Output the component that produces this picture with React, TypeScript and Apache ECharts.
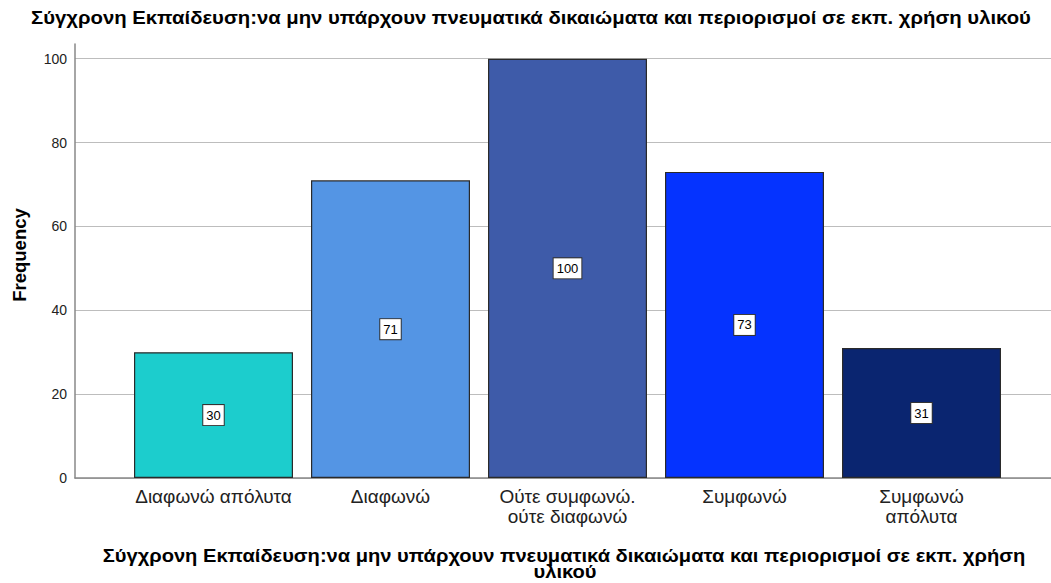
import React, { useEffect, useRef } from "react";
import * as echarts from "echarts";

const titleText = "Σύγχρονη Εκπαίδευση:να μην υπάρχουν πνευματικά δικαιώματα και περιορισμοί σε εκπ. χρήση υλικού";
const xAxisTitleLines = ["Σύγχρονη Εκπαίδευση:να μην υπάρχουν πνευματικά δικαιώματα και περιορισμοί σε εκπ. χρήση", "υλικού"];
const yAxisTitle = "Frequency";
const categories = ["Διαφωνώ απόλυτα", "Διαφωνώ", "Ούτε συμφωνώ.\nούτε διαφωνώ", "Συμφωνώ", "Συμφωνώ\nαπόλυτα"];
const frequencies = [30, 71, 100, 73, 31];
const barColors = ["#1CCDCD", "#5495E4", "#3E5BA9", "#0533FF", "#0A2570"];
const yTicks = [0, 20, 40, 60, 80, 100];

const FONT = "'Liberation Sans', Arial, sans-serif";

export default function App() {
  const ref = useRef<HTMLDivElement>(null);
  useEffect(() => {
    if (!ref.current) return;
    const chart = echarts.init(ref.current, null, { renderer: "svg" });
    const boldText = (text: string, x: number, y: number, sx: number, size = 17.5, rotation = 0) => ({
      type: "text",
      x,
      y,
      scaleX: sx,
      rotation,
      style: {
        text,
        fill: "#000",
        font: `bold ${size}px ${FONT}`,
        textAlign: "center",
        textVerticalAlign: "middle",
      },
    });
    chart.setOption({
      animation: false,
      backgroundColor: "#ffffff",
      textStyle: { fontFamily: FONT },
      graphic: [
        boldText(titleText, 531, 18, 1.16),
        boldText(xAxisTitleLines[0], 564, 556, 1.15),
        boldText(xAxisTitleLines[1], 565, 572, 1.15),
        boldText(yAxisTitle, 19, 255, 1, 18.5, Math.PI / 2),
      ],
      grid: [
        { left: 75, right: 0, top: 44, bottom: 105, containLabel: false },
        { left: 125, right: 41, top: 44, bottom: 105, containLabel: false },
      ],
      xAxis: [
        {
          type: "value",
          gridIndex: 0,
          min: 0,
          max: 1,
          axisLine: { show: true, lineStyle: { color: "#888", width: 1.5 } },
          axisTick: { show: false },
          axisLabel: { show: false },
          splitLine: { show: false },
        },
        {
          type: "category",
          gridIndex: 1,
          data: categories,
          axisLine: { show: false },
          axisTick: { show: false },
          axisLabel: {
            interval: 0,
            margin: 8,
            fontFamily: FONT,
            fontSize: 19,
            color: "#222",
            lineHeight: 20,
          },
        },
      ],
      yAxis: [
        {
          type: "value",
          gridIndex: 0,
          min: 0,
          max: 103.5,
          interval: 20,
          axisLine: { show: true, lineStyle: { color: "#888", width: 1.5 } },
          axisTick: { show: false },
          axisLabel: {
            showMaxLabel: false,
            fontFamily: FONT,
            fontSize: 14,
            color: "#222",
            margin: 8,
            formatter: (v: number) => (yTicks.includes(v) ? String(v) : ""),
          },
          splitLine: { show: true, showMaxLine: false, lineStyle: { color: "#bdbdbd", width: 1 } },
        },
        {
          type: "value",
          gridIndex: 1,
          min: 0,
          max: 103.5,
          show: false,
          splitLine: { show: false },
        },
      ],
      series: [
        {
          type: "bar",
          xAxisIndex: 1,
          yAxisIndex: 1,
          barWidth: 159,
          data: frequencies.map((v, i) => ({
            value: v,
            itemStyle: { color: barColors[i], borderColor: "#2a2a2a", borderWidth: 1.2 },
          })),
          label: {
            show: true,
            position: "inside",
            fontFamily: FONT,
            fontSize: 13,
            color: "#000",
            backgroundColor: "#fff",
            borderColor: "#333",
            borderWidth: 1,
            padding: [4, 3, 3, 3],
          },
        },
      ],
    });
    return () => chart.dispose();
  }, []);
  return <div ref={ref} style={{ width: 1051, height: 583, position: "absolute", left: 0, top: 0 }} />;
}
